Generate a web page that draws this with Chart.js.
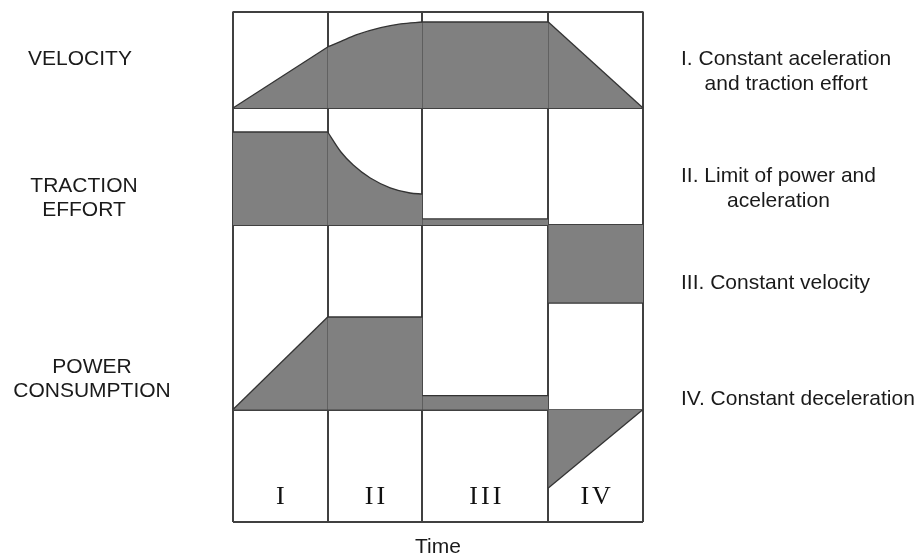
<!DOCTYPE html>
<html>
<head>
<meta charset="utf-8">
<title>Traction phases</title>
<script src="https://cdn.jsdelivr.net/npm/chart.js@4.4.1/dist/chart.umd.min.js"></script>
<style>
  body { margin: 0; background: #fff; }
</style>
</head>
<body>
<canvas id="phaseChart" width="924" height="556"></canvas>
<script>
// time axis: phase boundaries (phase III lasts a bit longer)
const phases = ['I', 'II', 'III', 'IV'];
const phaseEdges = [0, 1, 2, 3.33, 4.33];

// velocity, 1 = cruising speed
const velocityI = [[0, 0], [1, 0.71]];
const velocityII = [[1, 0.71], [1.14, 0.775], [1.3, 0.85], [1.56, 0.934], [1.77, 0.977], [2, 1]];
const velocityIII = [[2, 1], [3.33, 1]];
const velocityIV = [[3.33, 1], [4.33, 0]];

// traction effort, 1 = max effort
const tractionI = [[0, 1], [1, 1]];
const tractionII = [[1, 1], [1.14, 0.785], [1.27, 0.645], [1.45, 0.505], [1.66, 0.4], [1.87, 0.344], [2, 0.333]];
const tractionIII = [[2, 0.065], [3.33, 0.065]];
const tractionIV = [[3.33, -0.84], [4.33, -0.84]];

// power consumption, 1 = power limit
const powerI = [[0, 0], [1, 1]];
const powerII = [[1, 1], [2, 1]];
const powerIII = [[2, 0.15], [3.33, 0.15]];
const powerIV = [[3.33, -0.85], [4.33, 0]];

const rowLabels = [['VELOCITY'], ['TRACTION', 'EFFORT'], ['POWER', 'CONSUMPTION']];
const phaseNotes = [
  ['I. Constant aceleration', 'and traction effort'],
  ['II. Limit of power and', 'aceleration'],
  ['III. Constant velocity'],
  ['IV. Constant deceleration']
];

// where the side texts go (px)
const rowLabelPos = [[80, 59.5], [84, 198], [92, 379]];
const noteLeft = 681;
const noteY = [72, 189.2, 283, 399.5];

const FILL = '#808080';
const LINE = '#333333';
const GRID = { color: '#404040', lineWidth: 2, drawTicks: false };

function area(points, yAxisID, curved) {
  return {
    data: points.map(p => ({ x: p[0], y: p[1] })),
    yAxisID,
    clip: false,
    fill: { value: 0 },
    backgroundColor: FILL,
    borderColor: LINE,
    borderWidth: 1.3,
    pointRadius: 0,
    cubicInterpolationMode: curved ? 'monotone' : 'default',
    tension: 0
  };
}

function band(stackWeight, order, max, top) {
  return {
    type: 'linear',
    position: 'left',
    stack: 'rows',
    stackWeight,
    weight: order,
    min: 0,
    max,
    z: 1,
    border: { display: false },
    grid: GRID,
    ticks: { display: false },
    afterBuildTicks: s => { s.ticks = top ? [{ value: 0 }, { value: max }] : [{ value: 0 }]; }
  };
}

// text around the grid
const sideText = {
  id: 'sideText',
  afterDraw(chart) {
    const ctx = chart.ctx;
    ctx.save();
    ctx.fillStyle = '#1a1a1a';
    ctx.textBaseline = 'middle';
    ctx.textAlign = 'center';
    ctx.font = '21px "Liberation Sans", Arial, sans-serif';

    rowLabels.forEach((lines, i) => {
      const [x, y] = rowLabelPos[i];
      lines.forEach((t, k) => ctx.fillText(t, x, y + (k - (lines.length - 1) / 2) * 24));
    });

    phaseNotes.forEach((lines, i) => {
      const cx = noteLeft + ctx.measureText(lines[0]).width / 2;
      lines.forEach((t, k) => ctx.fillText(t, cx, noteY[i] + (k - (lines.length - 1) / 2) * 25));
    });

    // roman numerals inside the bottom row
    ctx.fillStyle = '#111';
    ctx.font = '26px "Liberation Serif", "Times New Roman", serif';
    ctx.letterSpacing = '3px';
    const xs = chart.scales.x;
    const ys = chart.scales.yPhase;
    phases.forEach((p, i) => {
      const cx = xs.getPixelForValue((phaseEdges[i] + phaseEdges[i + 1]) / 2);
      ctx.fillText(p, cx + 1.5, ys.getPixelForValue(0.22));
    });
    ctx.restore();
  }
};

new Chart(document.getElementById('phaseChart'), {
  type: 'line',
  data: {
    datasets: [
      area(velocityI, 'yVel'), area(velocityII, 'yVel', true), area(velocityIII, 'yVel'), area(velocityIV, 'yVel'),
      area(tractionI, 'yTrac'), area(tractionII, 'yTrac', true), area(tractionIII, 'yTrac'), area(tractionIV, 'yTrac'),
      area(powerI, 'yPow'), area(powerII, 'yPow'), area(powerIII, 'yPow'), area(powerIV, 'yPow')
    ]
  },
  options: {
    responsive: false,
    animation: false,
    devicePixelRatio: 1,
    layout: { padding: { left: 233, right: 281, top: 11.5, bottom: 0 } },
    plugins: {
      legend: { display: false },
      tooltip: { enabled: false },
      filler: { drawTime: 'beforeDatasetsDraw' }
    },
    scales: {
      x: {
        type: 'linear',
        min: phaseEdges[0],
        max: phaseEdges[phaseEdges.length - 1],
        z: 1,
        border: { display: false },
        grid: GRID,
        ticks: { display: false },
        afterBuildTicks: s => { s.ticks = phaseEdges.map(v => ({ value: v })); },
        title: {
          display: true,
          text: 'Time',
          color: '#1a1a1a',
          font: { family: '"Liberation Sans", Arial, sans-serif', size: 21, lineHeight: 0.8 },
          padding: { top: 17.7, bottom: 0 }
        }
      },
      yVel: band(96.5, 4, 1.122, true),
      yTrac: band(117, 3, 1.258),
      yPow: band(184.5, 2, 1.995),
      yPhase: band(112, 1, 1)
    }
  },
  plugins: [sideText]
});
</script>
</body>
</html>
